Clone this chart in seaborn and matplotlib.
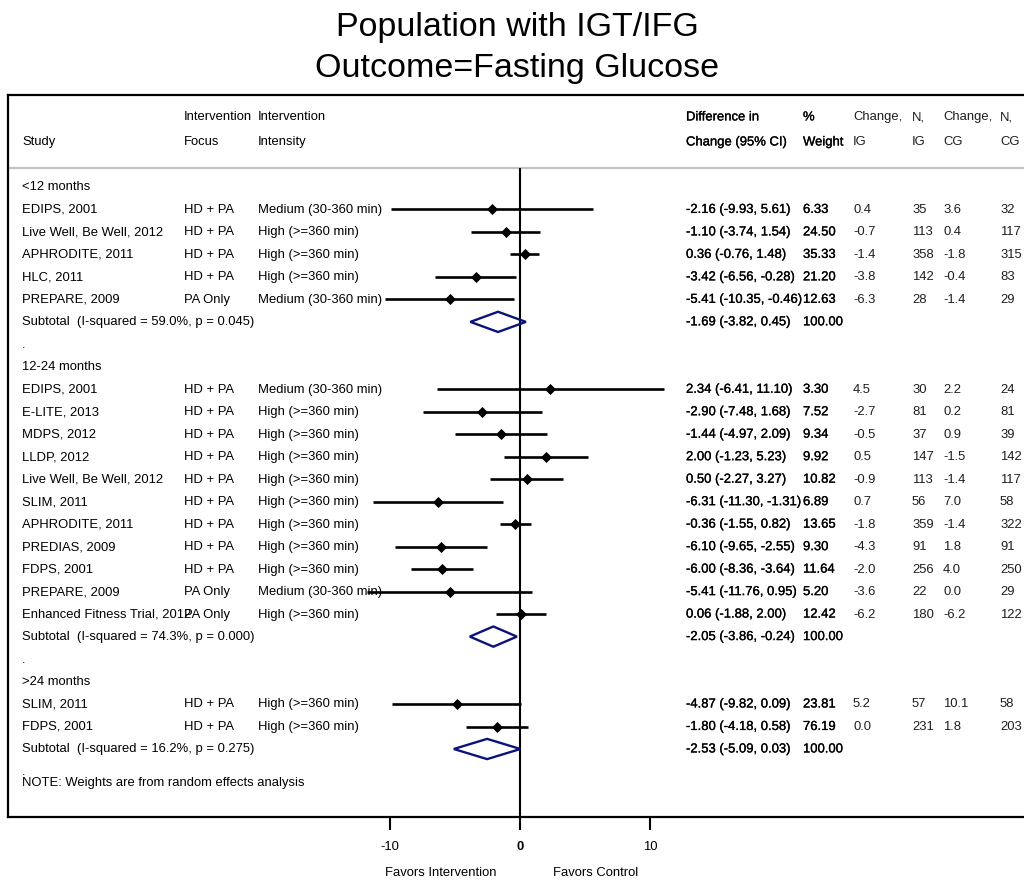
import matplotlib
matplotlib.use("Agg")
import numpy as np
import pandas as pd
import matplotlib.pyplot as plt
import matplotlib.patheffects as pe
from matplotlib.patches import Polygon
from matplotlib.transforms import blended_transform_factory
import seaborn as sns

# ---------------- data ----------------
group_titles = ["<12 months", "12-24 months", ">24 months"]

study = ["EDIPS, 2001", "Live Well, Be Well, 2012", "APHRODITE, 2011", "HLC, 2011", "PREPARE, 2009",
         "EDIPS, 2001", "E-LITE, 2013", "MDPS, 2012", "LLDP, 2012", "Live Well, Be Well, 2012",
         "SLIM, 2011", "APHRODITE, 2011", "PREDIAS, 2009", "FDPS, 2001", "PREPARE, 2009",
         "Enhanced Fitness Trial, 2012",
         "SLIM, 2011", "FDPS, 2001"]
group = [0, 0, 0, 0, 0,
         1, 1, 1, 1, 1, 1, 1, 1, 1, 1, 1,
         2, 2]
focus = ["HD + PA", "HD + PA", "HD + PA", "HD + PA", "PA Only",
         "HD + PA", "HD + PA", "HD + PA", "HD + PA", "HD + PA", "HD + PA", "HD + PA",
         "HD + PA", "HD + PA", "PA Only", "PA Only",
         "HD + PA", "HD + PA"]
MED, HIGH = "Medium (30-360 min)", "High (>=360 min)"
intensity = [MED, HIGH, HIGH, HIGH, MED,
             MED, HIGH, HIGH, HIGH, HIGH, HIGH, HIGH, HIGH, HIGH, MED, HIGH,
             HIGH, HIGH]
est = [-2.16, -1.10, 0.36, -3.42, -5.41,
       2.34, -2.90, -1.44, 2.00, 0.50, -6.31, -0.36, -6.10, -6.00, -5.41, 0.06,
       -4.87, -1.80]
ci_lo = [-9.93, -3.74, -0.76, -6.56, -10.35,
         -6.41, -7.48, -4.97, -1.23, -2.27, -11.30, -1.55, -9.65, -8.36, -11.76, -1.88,
         -9.82, -4.18]
ci_hi = [5.61, 1.54, 1.48, -0.28, -0.46,
         11.10, 1.68, 2.09, 5.23, 3.27, -1.31, 0.82, -2.55, -3.64, 0.95, 2.00,
         0.09, 0.58]
weight = [6.33, 24.50, 35.33, 21.20, 12.63,
          3.30, 7.52, 9.34, 9.92, 10.82, 6.89, 13.65, 9.30, 11.64, 5.20, 12.42,
          23.81, 76.19]
change_ig = [0.4, -0.7, -1.4, -3.8, -6.3,
             4.5, -2.7, -0.5, 0.5, -0.9, 0.7, -1.8, -4.3, -2.0, -3.6, -6.2,
             5.2, 0.0]
n_ig = [35, 113, 358, 142, 28,
        30, 81, 37, 147, 113, 56, 359, 91, 256, 22, 180,
        57, 231]
change_cg = [3.6, 0.4, -1.8, -0.4, -1.4,
             2.2, 0.2, 0.9, -1.5, -1.4, 7.0, -1.4, 1.8, 4.0, 0.0, -6.2,
             10.1, 1.8]
n_cg = [32, 117, 315, 83, 29,
        24, 81, 39, 142, 117, 58, 322, 91, 250, 29, 122,
        58, 203]

subtotal_label = ["Subtotal  (I-squared = 59.0%, p = 0.045)",
                  "Subtotal  (I-squared = 74.3%, p = 0.000)",
                  "Subtotal  (I-squared = 16.2%, p = 0.275)"]
subtotal_est = [-1.69, -2.05, -2.53]
subtotal_lo = [-3.82, -3.86, -5.09]
subtotal_hi = [0.45, -0.24, 0.03]
subtotal_weight = [100.00, 100.00, 100.00]

title_lines = ["Population with IGT/IFG", "Outcome=Fasting Glucose"]
note_text = "NOTE: Weights are from random effects analysis"
x_ticks = [-10, 0, 10]
x_ticklabels = ["-10", "0", "10"]
favors_left, favors_right = "Favors Intervention", "Favors Control"

# ---------------- layout helpers ----------------
W, H = 1024, 881
X0_PX, PX_PER_UNIT = 520.0, 13.0
ROW0_PX, ROW_PX = 187.0, 22.48


def px2x(px):
    return (px - X0_PX) / PX_PER_UNIT


def px2row(py):
    return (py - ROW0_PX) / ROW_PX


# row indices: group header, studies, subtotal, spacer dot
df = pd.DataFrame(dict(study=study, group=group, focus=focus, intensity=intensity,
                       est=est, lo=ci_lo, hi=ci_hi, weight=weight,
                       chg_ig=change_ig, n_ig=n_ig, chg_cg=change_cg, n_cg=n_cg))
header_rows, subtotal_rows, dot_rows, study_rows = [], [], [], []
r = 0
for g in range(len(group_titles)):
    header_rows.append(r)
    r += 1
    for _ in range(int((df.group == g).sum())):
        study_rows.append(r)
        r += 1
    subtotal_rows.append(r)
    r += 1
    dot_rows.append(r)
    r += 1
df["row"] = study_rows
note_row = dot_rows[-1] + 0.5

# ---------------- figure ----------------
sns.set_theme(style="white")
plt.rcParams["font.family"] = ["Liberation Sans", "DejaVu Sans"]
plt.rcParams["axes.unicode_minus"] = False
plt.rcParams["text.color"] = "black"
plt.rcParams["xtick.color"] = "black"
plt.rcParams["xtick.labelcolor"] = "black"
FS = 9.4

fig = plt.figure(figsize=(W / 100, H / 100), dpi=100)
frame_left, frame_right, frame_top, frame_bottom = 8, 1030, 95, 817
ax = fig.add_axes([frame_left / W, 1 - frame_bottom / H,
                   (frame_right - frame_left) / W, (frame_bottom - frame_top) / H])
ax.set_xlim(px2x(frame_left), px2x(frame_right))
ax.set_ylim(px2row(frame_bottom), px2row(frame_top))

for side in ["left", "top", "bottom"]:
    ax.spines[side].set_color("black")
    ax.spines[side].set_linewidth(1.6)
ax.spines["right"].set_visible(False)

# header separator and null line
sep_row = px2row(168)
ax.axhline(sep_row, color="#c4c4c4", lw=1.6, zorder=1)
ax.vlines(0, sep_row, px2row(frame_bottom), color="black", lw=1.5, zorder=2)

# confidence intervals and point estimates
ax.hlines(df["row"], df["lo"], df["hi"], color="black", lw=1.9, zorder=3)
sns.scatterplot(data=df, x="est", y="row", marker="D", color="black", s=32,
                linewidth=0, legend=False, ax=ax, zorder=4)

# pooled subtotals as open diamonds
for rr, e, lo_, hi_ in zip(subtotal_rows, subtotal_est, subtotal_lo, subtotal_hi):
    ax.add_patch(Polygon([(lo_, rr), (e, rr - 0.45), (hi_, rr), (e, rr + 0.45)],
                         closed=True, facecolor="none", edgecolor="#0a1478", lw=1.7, zorder=4))

# ticks
ax.set_xticks(x_ticks)
ax.set_xticklabels(x_ticklabels, fontsize=FS, color="black")
ax.set_yticks([])
ax.tick_params(axis="x", bottom=True, length=9.4, width=1.5, pad=8, color="black")
for lab in ax.get_xticklabels():
    if lab.get_text() == "0":
        lab.set_fontweight("bold")
ax.set_xlabel("")
ax.set_ylabel("")

# ---------------- text columns ----------------
col = dict(study=px2x(22), focus=px2x(184), intensity=px2x(258), diff=px2x(686),
           weight=px2x(803), chg_ig=px2x(853), n_ig=px2x(912), chg_cg=px2x(943), n_cg=px2x(1000))
heavy = [pe.withStroke(linewidth=0.2, foreground="black")]
TY = 0.02  # small nudge so caps sit centred on the row
LIGHT = "#1e1e1e"


def put(x, row, s, heavy_text=False, color="black"):
    ax.text(x, row + TY, s, fontsize=FS, va="center", ha="left", color=color,
            path_effects=heavy if heavy_text else None, zorder=5)


h1, h2 = px2row(117), px2row(142)
put(col["focus"], h1, "Intervention")
put(col["intensity"], h1, "Intervention")
put(col["diff"], h1, "Difference in", True)
put(col["weight"], h1, "%", True)
put(col["chg_ig"], h1, "Change,", color=LIGHT)
put(col["n_ig"], h1, "N,", color=LIGHT)
put(col["chg_cg"], h1, "Change,", color=LIGHT)
put(col["n_cg"], h1, "N,", color=LIGHT)
put(col["study"], h2, "Study")
put(col["focus"], h2, "Focus")
put(col["intensity"], h2, "Intensity")
put(col["diff"], h2, "Change (95% CI)", True)
put(col["weight"], h2, "Weight", True)
put(col["chg_ig"], h2, "IG", color=LIGHT)
put(col["n_ig"], h2, "IG", color=LIGHT)
put(col["chg_cg"], h2, "CG", color=LIGHT)
put(col["n_cg"], h2, "CG", color=LIGHT)

for g, rr in enumerate(header_rows):
    put(col["study"], rr, group_titles[g])

for _, d in df.iterrows():
    rr = d["row"]
    put(col["study"], rr, d["study"])
    put(col["focus"], rr, d["focus"])
    put(col["intensity"], rr, d["intensity"])
    put(col["diff"], rr, f"{d['est']:.2f} ({d['lo']:.2f}, {d['hi']:.2f})", True)
    put(col["weight"], rr, f"{d['weight']:.2f}", True)
    put(col["chg_ig"], rr, f"{d['chg_ig']:.1f}", color=LIGHT)
    put(col["n_ig"], rr, f"{int(d['n_ig'])}", color=LIGHT)
    put(col["chg_cg"], rr, f"{d['chg_cg']:.1f}", color=LIGHT)
    put(col["n_cg"], rr, f"{int(d['n_cg'])}", color=LIGHT)

for lab, rr, e, lo_, hi_, w in zip(subtotal_label, subtotal_rows, subtotal_est,
                                   subtotal_lo, subtotal_hi, subtotal_weight):
    put(col["study"], rr, lab)
    put(col["diff"], rr, f"{e:.2f} ({lo_:.2f}, {hi_:.2f})", True)
    put(col["weight"], rr, f"{w:.2f}", True)

for rr in dot_rows:
    put(col["study"], rr, ".")
put(col["study"], note_row, note_text)

# direction labels under the axis
tr = blended_transform_factory(ax.transData, fig.transFigure)
ax.text(px2x(441), 1 - 873 / H, favors_left, transform=tr, ha="center", va="center", fontsize=FS)
ax.text(px2x(596), 1 - 873 / H, favors_right, transform=tr, ha="center", va="center", fontsize=FS)

# two-line title
fig.text(517 / W, 1 - 36 / H, title_lines[0], ha="center", va="baseline", fontsize=24.5, color="black")
fig.text(517 / W, 1 - 77 / H, title_lines[1], ha="center", va="baseline", fontsize=24.5, color="black")

fig.savefig("out.png", dpi=100)
